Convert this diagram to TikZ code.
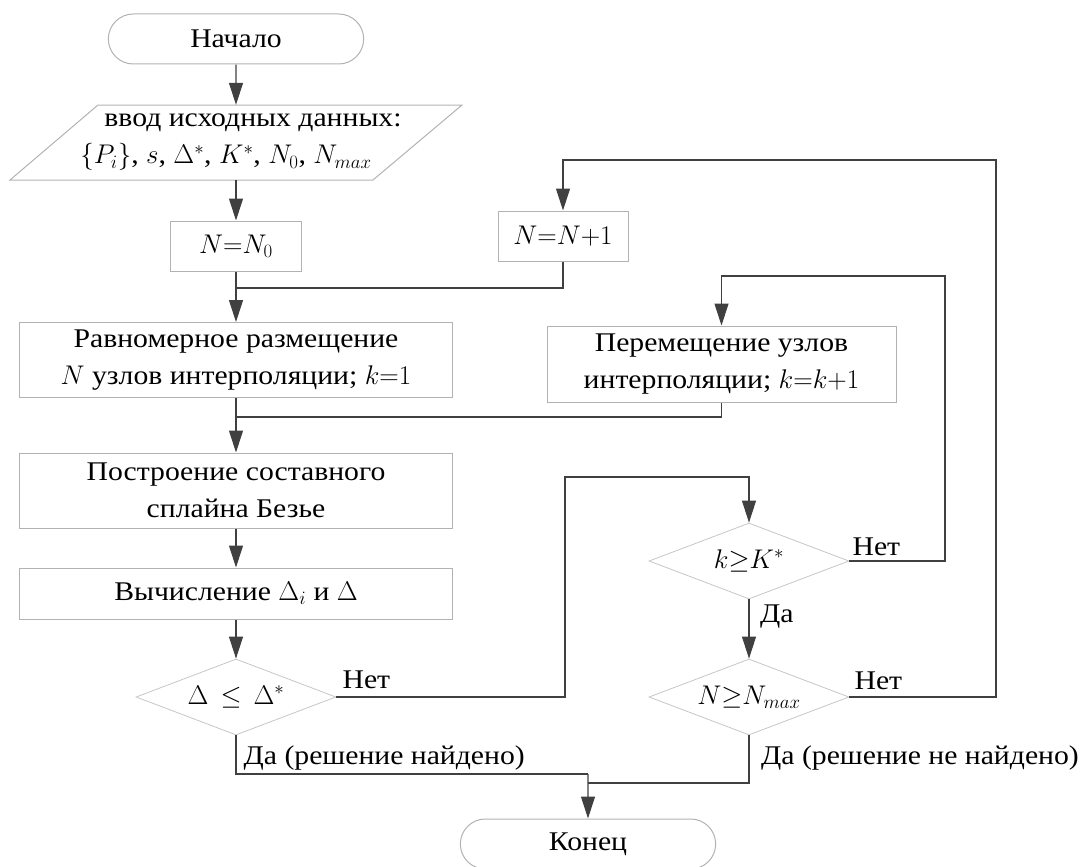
\RequirePackage{fix-cm}
\documentclass[tikz,border=0pt]{standalone}
\usepackage[no-math]{fontspec}
\setmainfont{Liberation Serif}[FakeStretch=1.1]
\usetikzlibrary{arrows.meta,shapes.geometric,shapes.misc}

\tikzset{
  txt/.style={font=\fontsize{27}{37}\selectfont},
  boxline/.style={draw=gray!60, line width=1pt},
  block/.style={rectangle, boxline, txt, align=center, inner sep=0pt},
  wideblock/.style={block, minimum width=433pt},
  term/.style={rounded rectangle, boxline, txt, minimum width=262pt, minimum height=50pt},
  cond/.style={diamond, draw=gray!45, line width=0.8pt, txt, aspect=2.65, inner sep=0pt,
    minimum width=200pt, minimum height=76pt},
  conn/.style={draw=black!75, line width=1.1pt},
  arr/.style={conn, -{Triangle[length=22pt,width=14pt]}},
  lbl/.style={txt, inner sep=0pt, anchor=base west}
}

\begin{document}
\begin{tikzpicture}[x=1pt, y=-1pt]
  \useasboundingbox (0,0) rectangle (1090,867);

  % left column
  \node (start) [term] at (236,39) {Начало};
  \node (inp) [txt, align=center, inner sep=0pt, minimum height=75pt] at (236,142.5)
    {\rule{34pt}{0pt}ввод исходных данных:\\
     $\{P_i\}$, $s$, $\Delta^*$, $K^*$, $N_0$, $N_{max}$\rule{20pt}{0pt}};
  \draw[boxline] (98,105) -- (462,105) -- (373,180) -- (10,180) -- cycle;
  \node (n0) [block, minimum width=131pt, minimum height=50pt] at (236,246) {$N{=}N_0$};
  \node (uni) [wideblock, minimum height=75pt] at (236,360)
    {Равномерное размещение\\$N$ узлов интерполяции; $k{=}1$};
  \node (spl) [wideblock, minimum height=75pt] at (236,490.5)
    {Построение составного\\сплайна Безье};
  \node (calc) [wideblock, minimum height=51pt] at (236,593.5)
    {Вычисление $\Delta_i$ и $\Delta$};
  \node (chkd) [cond] at (236,697) {$\Delta\,\leq\,\Delta^*$};

  % right column
  \node (n1) [block, minimum width=130pt, minimum height=50pt] at (563,236) {$N{=}N{+}1$};
  \node (move) [block, minimum width=349pt, minimum height=76pt] at (721.5,364)
    {Перемещение узлов\\интерполяции; $k{=}k{+}1$};
  \node (chkk) [cond] at (749,561) {$k{\geq}K^*$};
  \node (chkn) [cond] at (749,697) {$N{\geq}N_{max}$};
  \node (stop) [term] at (588,844) {Конец};

  % bends and joins
  \coordinate (j1) at (236,288);
  \coordinate (j2) at (236,417);
  \coordinate (j3) at (588,774);
  \coordinate (j4) at (588,783);
  \coordinate (b1) at (565,477);
  \coordinate (b2) at (945,276);
  \coordinate (b3) at (996,160);

  \draw[arr] (start) -- (inp);
  \draw[arr] (inp) -- (n0);
  \draw[conn] (n0) -- (j1);
  \draw[conn] (n1) |- (j1);
  \draw[arr] (j1) -- (uni);
  \draw[conn] (uni) -- (j2);
  \draw[conn] (move) |- (j2);
  \draw[arr] (j2) -- (spl);
  \draw[arr] (spl) -- (calc);
  \draw[arr] (calc) -- (chkd);
  \draw[arr] (chkd) -| (b1) -| (chkk);
  \draw[arr] (chkk) -| (b2) -| (move);
  \draw[arr] (chkk) -- (chkn);
  \draw[arr] (chkn) -| (b3) -| (n1);
  \draw[conn] (chkd) |- (j3);
  \draw[conn] (chkn) |- (j4);
  \draw[arr] (j3) -- (stop);

  % labels
  \node (no1) [lbl] at ([xshift=6pt,yshift=9pt]chkd.east) {Нет};
  \node (yes1) [lbl] at ([xshift=7.5pt,yshift=-29.5pt]chkd.south) {Да (решение найдено)};
  \node (no2) [lbl] at ([xshift=3pt,yshift=6pt]chkk.east) {Нет};
  \node (yes2) [lbl] at ([xshift=11pt,yshift=-23pt]chkk.south) {Да};
  \node (no3) [lbl] at ([xshift=5pt,yshift=8pt]chkn.east) {Нет};
  \node (yes3) [lbl] at ([xshift=12pt,yshift=-29pt]chkn.south) {Да (решение не найдено)};
\end{tikzpicture}
\end{document}
